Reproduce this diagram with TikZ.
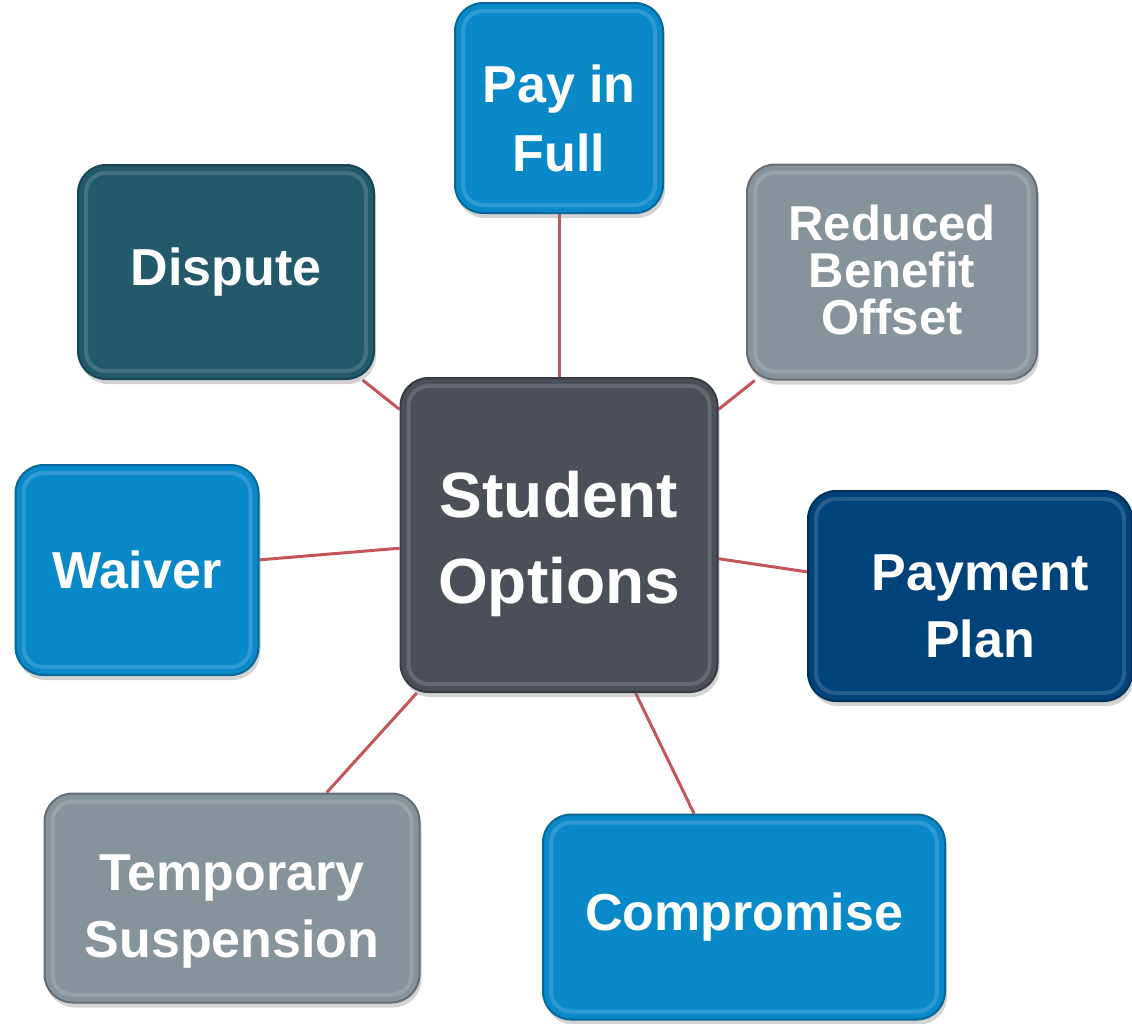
\documentclass[tikz,border=0pt]{standalone}
\usepackage{fontspec}
\setmainfont{Liberation Sans}
\usetikzlibrary{shadows,backgrounds}
\definecolor{optblue}{HTML}{0A89C9}
\definecolor{optgray}{HTML}{86939B}
\definecolor{optteal}{HTML}{225A6C}
\definecolor{optnavy}{HTML}{00427A}
\definecolor{optdark}{HTML}{4B5058}
\definecolor{linkred}{HTML}{C4555A}
% lowers a text block inside its box
\newcommand{\topgap}[1]{\rule{0pt}{#1}}
\begin{document}
\begin{tikzpicture}[x=1pt,y=-1pt,
	option/.style={rectangle, rounded corners=28pt, fill=#1, draw=#1!75!black, line width=2pt,
		drop shadow={opacity=0.35, shadow xshift=2pt, shadow yshift=-5pt},
		path picture={\draw[white, opacity=0.15, line width=4pt, rounded corners=20pt]
			([shift={(8pt,-8pt)}]path picture bounding box.north west) rectangle
			([shift={(-8pt,8pt)}]path picture bounding box.south east);},
		text=white, align=center, inner sep=0pt,
		font=\fontsize{52}{67}\selectfont\bfseries},
	link/.style={draw=linkred, line width=3pt}]
	\useasboundingbox (0,0) rectangle (1132,1023);

	\node (center)		at (559,535) [option=optdark, minimum width=317pt, minimum height=314pt,
		font=\fontsize{64}{86}\selectfont\bfseries] {\topgap{65pt}Student\\Options};

	\node (pay)		at (559,108) [option=optblue, minimum width=208pt, minimum height=210pt,
		font=\fontsize{52}{69}\selectfont\bfseries] {\topgap{58pt}Pay in\\Full};
	\node (reduced)		at (892,272) [option=optgray, minimum width=290pt, minimum height=215pt,
		font=\fontsize{49}{47}\selectfont\bfseries] {Reduced\\Benefit\\Offset\rule[-4pt]{0pt}{0pt}};
	\node (dispute)		at (226,272) [option=optteal, minimum width=296pt, minimum height=214pt] {Dispute};
	\node (waiver)		at (137,570) [option=optblue, minimum width=243pt, minimum height=210pt] {Waiver};
	\node (payment)		at (970,596) [option=optnavy, minimum width=324pt, minimum height=210pt]
		{\topgap{56pt}\hspace{20pt}Payment\\\hspace{20pt}Plan};
	\node (suspension)	at (232,898) [option=optgray, minimum width=375pt, minimum height=209pt]
		{\topgap{62pt}Temporary\\Suspension};
	\node (compromise)	at (744,917) [option=optblue, minimum width=402pt, minimum height=205pt] {Compromise};

	\begin{scope}[on background layer]
	\path (center)	edge[link] (pay)
		(center)		edge[link] (reduced)
		(center)		edge[link] (dispute)
		(center)		edge[link] (waiver)
		(center)		edge[link] (payment)
		(center)		edge[link] (suspension)
		(center)		edge[link] (compromise);
	\end{scope}
\end{tikzpicture}
\end{document}
